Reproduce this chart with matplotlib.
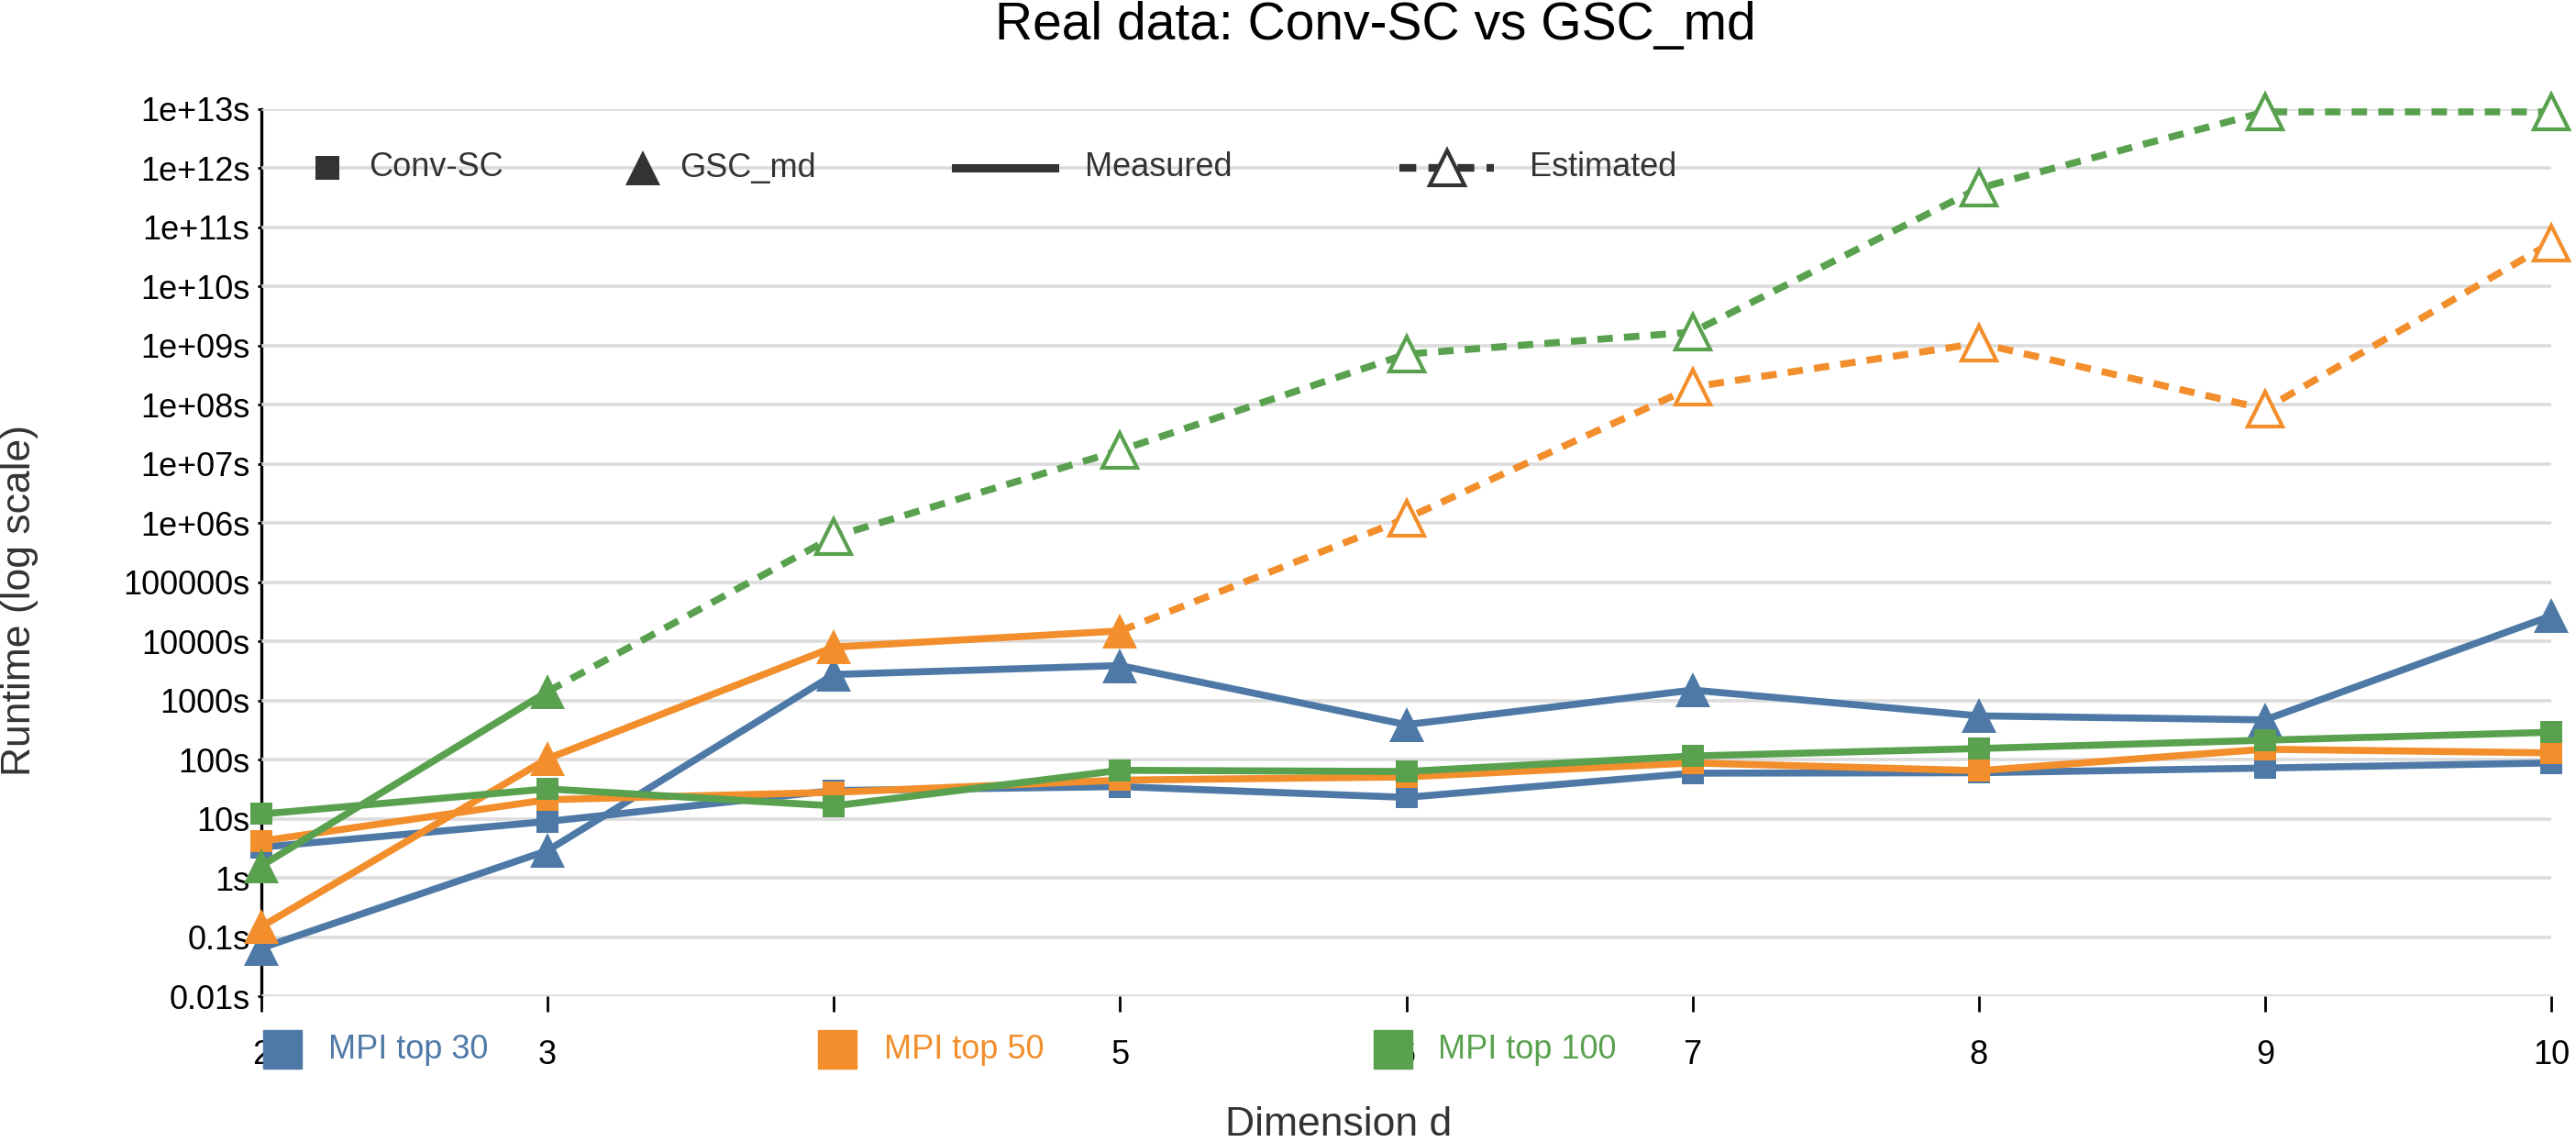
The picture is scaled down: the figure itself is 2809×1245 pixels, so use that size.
import matplotlib
matplotlib.use("Agg")
import matplotlib.pyplot as plt
from matplotlib.lines import Line2D
from matplotlib.patches import Rectangle
from matplotlib.ticker import NullLocator

plt.rcParams['font.family'] = ['Liberation Sans', 'DejaVu Sans']

W, H = 2809, 1245

dims = [2, 3, 4, 5, 6, 7, 8, 9, 10]
series_names = ['MPI top 30', 'MPI top 50', 'MPI top 100']
colors = ['#4E79A7', '#F28E2B', '#59A14F']

# Conv-SC, all measured
conv_top30 = [3.3, 9, 30, 35, 23, 59, 60, 72, 88]
conv_top50 = [4.2, 21, 28, 45, 51, 88, 65, 150, 130]
conv_top100 = [12, 32, 16.5, 66, 63, 115, 154, 213, 290]

# GSC_md, measured up to some dimension, estimated after that
gsc_top30 = [0.065, 2.9, 2750, 3900, 390, 1500, 550, 470, 27000]
gsc_top50 = [0.15, 104, 8000, 15000, 1.2e6, 2e8, 1.1e9, 8.5e7, 5.5e10]
gsc_top100 = [1.6, 1420, 5.9e5, 1.7e7, 7.2e8, 1.7e9, 4.6e11, 9e12, 9e12]
gsc_last_measured = [10, 5, 3]

yticks = [1e-2, 1e-1, 1, 10, 100, 1e3, 1e4, 1e5, 1e6, 1e7, 1e8, 1e9, 1e10, 1e11, 1e12, 1e13]
ytick_labels = ['0.01s', '0.1s', '1s', '10s', '100s', '1000s', '10000s', '100000s',
                '1e+06s', '1e+07s', '1e+08s', '1e+09s', '1e+10s', '1e+11s', '1e+12s', '1e+13s']

conv = [conv_top30, conv_top50, conv_top100]
gsc = [gsc_top30, gsc_top50, gsc_top100]

LW = 5.5
DASH = (0, (2.2, 1.6))
TRI = 28
SQ = 17


def fx(px):
    return px / W


def fy(py):
    return 1 - py / H


fig = plt.figure(figsize=(W / 100, H / 100), dpi=100)
ax = fig.add_axes([fx(285), fy(1086), fx(2782) - fx(285), fy(119) - fy(1086)])

ax.set_yscale('log')
ax.set_ylim(1e-2, 1e13)
ax.set_xlim(2, 10)
ax.set_yticks(yticks)
ax.set_yticklabels(ytick_labels)
ax.yaxis.set_minor_locator(NullLocator())
ax.set_xticks(dims)
ax.set_xticklabels([str(d) for d in dims])

ax.grid(axis='y', color='#dcdcdc', lw=2.6, zorder=0)
ax.grid(axis='x', visible=False)
for s in ['top', 'right', 'bottom']:
    ax.spines[s].set_visible(False)
ax.spines['left'].set_linewidth(2.4)
ax.spines['left'].set_zorder(1)
ax.tick_params(axis='y', length=3, width=2, labelsize=26, pad=6)
ax.tick_params(axis='x', length=12, width=2, labelsize=26, pad=22)

for i in range(3):
    c = colors[i]
    ax.plot(dims, conv[i], color=c, lw=LW, marker='s', ms=SQ, mec=c, mew=0,
            clip_on=False, zorder=3 + i)

for i in range(3):
    c = colors[i]
    m = dims.index(gsc_last_measured[i])
    ax.plot(dims[:m + 1], gsc[i][:m + 1], color=c, lw=LW, marker='^', ms=TRI, mew=0,
            clip_on=False, zorder=3 + i)
    if m < len(dims) - 1:
        ax.plot(dims[m:], gsc[i][m:], color=c, lw=LW, linestyle=DASH,
                dash_capstyle='butt', clip_on=False, zorder=3 + i)
        ax.plot(dims[m + 1:], gsc[i][m + 1:], linestyle='none', marker='^', ms=TRI,
                mfc='white', mec=c, mew=3, clip_on=False, zorder=3 + i)

# top legend
dark = '#333333'
ly = fy(183)
fig.add_artist(Line2D([fx(357)], [ly], marker='s', ms=19, color=dark, mew=0))
fig.text(fx(402), ly, 'Conv-SC', fontsize=26, color=dark, va='center')
fig.add_artist(Line2D([fx(701)], [ly], marker='^', ms=TRI, color=dark, mew=0))
fig.text(fx(741), ly, 'GSC_md', fontsize=26, color=dark, va='center')
fig.add_artist(Line2D([fx(1042), fx(1150)], [ly, ly], lw=6.5, color=dark))
fig.text(fx(1183), ly, 'Measured', fontsize=26, color=dark, va='center')
fig.add_artist(Line2D([fx(1526), fx(1629)], [ly, ly], lw=6, color=dark,
                      linestyle=DASH, dash_capstyle='butt'))
fig.add_artist(Line2D([fx(1578)], [ly], marker='^', ms=TRI, mfc='white', mec=dark,
                      mew=3, linestyle='none'))
fig.text(fx(1668), ly, 'Estimated', fontsize=26, color=dark, va='center')

# bottom legend
by = 1144
for name, c, px, tx in zip(series_names, colors, [287, 892, 1498], [358, 964, 1568]):
    fig.add_artist(Rectangle((fx(px), fy(by + 21)), fx(42), 42 / H, color=c, zorder=5))
    fig.text(fx(tx), fy(by), name, fontsize=26, color=c, va='center', zorder=6)

fig.text(fx(1500), fy(28), 'Real data: Conv-SC vs GSC_md', fontsize=41, ha='center', va='center')
fig.text(fx(1460), fy(1227), 'Dimension d', fontsize=32, color=dark, ha='center', va='center')
fig.text(fx(22), fy(654), 'Runtime (log scale)', fontsize=32, color=dark, rotation=90,
         ha='center', va='center')

fig.savefig('out.png', dpi=100)
